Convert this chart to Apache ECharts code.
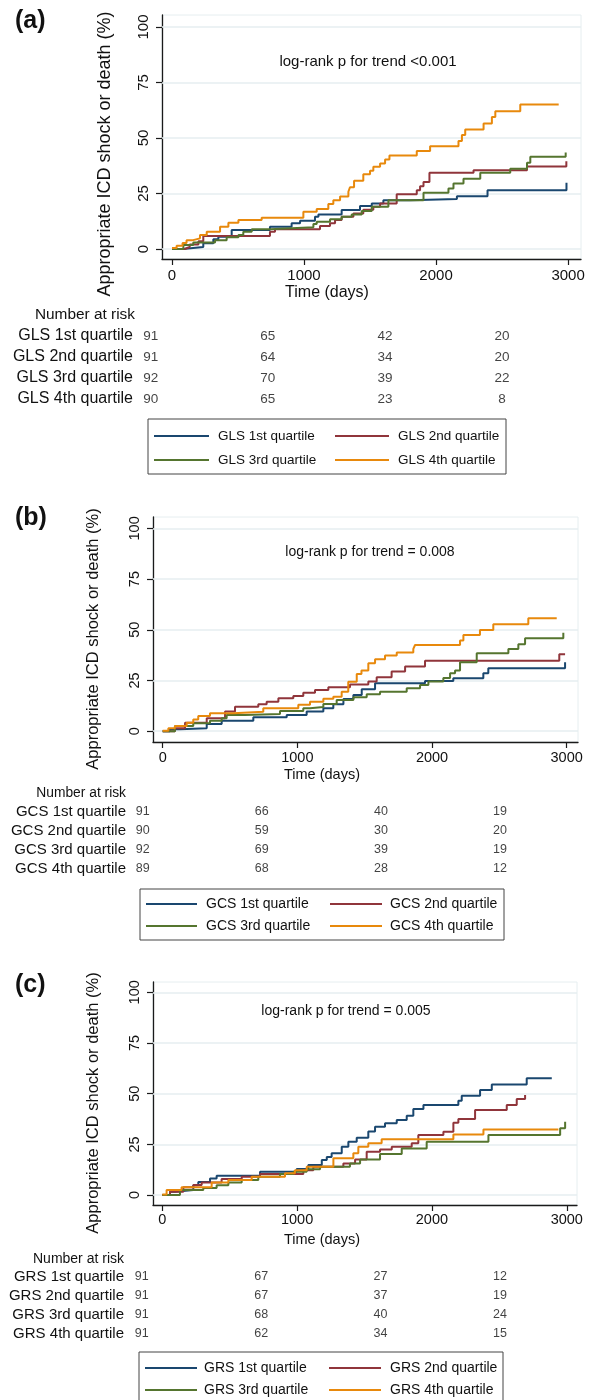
<!DOCTYPE html>
<html>
<head>
<meta charset="utf-8">
<script src="https://cdn.jsdelivr.net/npm/echarts@6/dist/echarts.min.js"></script>
<style>
  html, body { margin: 0; padding: 0; background: #fff; }
  #main { width: 593px; height: 1400px; }
</style>
</head>
<body>
<div id="main"></div>
<script>
  // ---- data: [days, cumulative %] step points ----
  const glsQ1 = [[0,0],[83,0.9],[237,2.6],[313,4.4],[351,5.5],[452,8.6],[742,10],[906,11.6],[970,12.7],[1083,14.5],[1109,15.5],[1285,17.6],[1424,19.4],[1513,20.5],[1601,22],[1804,22.5],[2158,23.8],[2390,26.5],[2988,29.8]]
  const glsQ2 = [[0,0],[96,0.9],[134,2],[200,3.5],[237,5.9],[742,7.8],[780,8.9],[1121,10.4],[1197,11.6],[1235,13.1],[1285,14.5],[1374,16],[1449,17.7],[1525,19],[1576,20.5],[1702,24.7],[1854,26.5],[1879,28.3],[1905,30.2],[1950,34.4],[2284,35.5],[2689,37.2],[2954,37.2],[2987,39.5]]
  const glsQ3 = [[0,0],[86,1.8],[161,2.9],[326,4],[414,5.3],[503,6.3],[540,7.8],[604,8.9],[742,9.8],[1071,11.3],[1096,12.3],[1197,13.4],[1285,14.5],[1361,15.5],[1437,17.1],[1513,19],[1639,22],[1905,25.3],[2094,27.2],[2132,29.5],[2208,31.7],[2335,34.3],[2562,36.2],[2689,38.8],[2714,41.5],[2982,43.5]]
  const glsQ4 = [[0,0.5],[35,1.5],[80,2.7],[110,4],[160,4.8],[212,6.3],[263,7.8],[364,10],[427,11.8],[503,13.1],[679,14.1],[995,16.8],[1096,18],[1184,20.3],[1222,22],[1273,23.6],[1336,25.8],[1348,27.8],[1379,30.7],[1449,33.7],[1500,35.2],[1525,37],[1576,38.5],[1614,40.3],[1647,42.1],[1854,44.1],[1955,46.3],[2170,48.7],[2196,51.3],[2221,53.8],[2360,56.5],[2423,59.5],[2449,62.1],[2638,65.1],[2929,65.1]]

  const gcsQ1 = [[0,0],[54,1],[128,1.5],[327,3.6],[438,5.2],[673,6.9],[921,8],[1069,9.7],[1193,11.3],[1267,13.3],[1342,15.9],[1416,17.9],[1478,20.7],[1577,23.6],[1948,24.8],[2158,26.1],[2381,28.6],[2418,31],[2988,34]]
  const gcsQ2 = [[0,0],[91,1.5],[166,4.2],[327,6.4],[463,9.7],[537,12.1],[710,13.3],[772,14.6],[859,16.3],[970,17.4],[1044,19],[1131,20.3],[1230,21.7],[1391,23],[1527,24.5],[1589,26.6],[1700,29.4],[1800,31.9],[1948,34.8],[2945,37.9],[2988,37.9]]
  const gcsQ3 = [[0,0],[91,2.6],[227,3.9],[351,5.2],[438,6.4],[475,8],[611,8.5],[871,10],[1044,11.3],[1094,12],[1193,13.4],[1292,15.4],[1416,16.7],[1515,18.2],[1614,19.5],[1812,21.2],[1911,22.8],[1973,24.5],[2084,26.2],[2134,28.6],[2171,30],[2208,34],[2332,38.4],[2567,40.6],[2641,42.9],[2691,45.8],[2975,48.6]]
  const gcsQ4 = [[0,0.3],[42,1.5],[91,2.6],[178,4.2],[227,5.8],[264,7.5],[351,8.9],[524,9.6],[747,11.3],[1007,13],[1094,14.6],[1193,16],[1267,17],[1329,19.5],[1378,24.4],[1441,28.2],[1476,30],[1527,33.5],[1577,35.5],[1651,37.3],[1738,38.8],[1861,40.6],[1874,42.5],[2208,44.7],[2233,47.5],[2356,49.9],[2455,52.7],[2715,55.7],[2926,55.7]]

  const grsQ1 = [[0,0],[57,1.6],[94,2.5],[230,4.9],[267,6.5],[354,8.2],[403,9.5],[725,11.5],[997,12.8],[1083,14.8],[1183,17.3],[1220,18.8],[1256,20.6],[1331,23.8],[1380,26.3],[1442,28.3],[1528,31.3],[1578,33.7],[1652,35.4],[1739,37],[1813,39.1],[1862,42.4],[1937,44.4],[2196,46.5],[2221,49],[2357,51.8],[2444,54.6],[2703,57.6],[2889,57.6]]
  const grsQ2 = [[0,0],[57,1.6],[156,3.8],[230,5],[292,6.2],[440,7.9],[589,9],[725,10.4],[1046,12.3],[1120,14],[1343,15.6],[1430,17.6],[1516,21.4],[1615,22.5],[1702,23.8],[1850,25.5],[1899,29.6],[2085,31.2],[2159,35.7],[2196,37.5],[2320,41.9],[2555,44.4],[2629,47.4],[2691,49.3]]
  const grsQ3 = [[0,0],[131,2.5],[304,3.5],[403,4.9],[490,6.2],[589,7.4],[712,9],[873,10.4],[972,11.5],[1071,12.7],[1170,14],[1392,15.6],[1467,17.6],[1615,20.2],[1776,23],[1961,26.3],[2419,29.6],[2951,32.9],[2988,36.2]]
  const grsQ4 = [[0,0.3],[32,2.5],[143,3.8],[366,6.2],[490,7.4],[663,9],[910,10.7],[984,12.3],[1071,14],[1269,18.1],[1417,20.6],[1454,23.8],[1528,25.5],[1627,27.5],[2159,29.9],[2382,32.4],[2938,32.4]]

  // number at risk at 0, 1000, 2000, 3000 days
  const glsRisk = [[91,65,42,20],[91,64,34,20],[92,70,39,22],[90,65,23,8]]
  const gcsRisk = [[91,66,40,19],[90,59,30,20],[92,69,39,19],[89,68,28,12]]
  const grsRisk = [[91,67,27,12],[91,67,37,19],[91,68,40,24],[91,62,34,15]]

  const quartiles = ['1st quartile', '2nd quartile', '3rd quartile', '4th quartile']
  const timeTicks = [0, 1000, 2000, 3000]
  const pctTicks = [0, 25, 50, 75, 100]
  const colors = ['#1a476f', '#90353b', '#55752f', '#e8890c']

  const font = "'Liberation Sans', Arial, sans-serif"

  const panels = [
    { tag: '(a)', prefix: 'GLS', note: 'log-rank p for trend <0.001', curves: [glsQ1, glsQ2, glsQ3, glsQ4], risk: glsRisk,
      grid: {left: 162, top: 15, width: 419, height: 244}, xr: [-75.8, 3098], yr: [-4.5, 105.4],
      tickFont: 15, xMargin: 9, yMargin: 11,
      riskGrid: {left: 150.7, top: 325.5, width: 351.3, height: 84}, riskMargin: 17.7, rowFont: 16, numFont: 13.5,
      tagPos: [15, 23], notePos: [368, 62], noteFont: 15, xTitle: [327, 293, 16], yTitle: [105, 154, 18], nar: [135, 315, 15.4],
      legend: {box: [148, 419, 506, 474], rows: [436, 460], lines: [[154, 209], [335, 389]], texts: [218, 398], size: 13.5} },
    { tag: '(b)', prefix: 'GCS', note: 'log-rank p for trend = 0.008', curves: [gcsQ1, gcsQ2, gcsQ3, gcsQ4], risk: gcsRisk,
      grid: {left: 153, top: 517, width: 425, height: 225}, xr: [-72, 3084], yr: [-5.3, 105.6],
      tickFont: 14.5, xMargin: 8, yMargin: 11,
      riskGrid: {left: 142.7, top: 802.5, width: 357.3, height: 76}, riskMargin: 16.7, rowFont: 15, numFont: 12.5,
      tagPos: [15, 520], notePos: [370, 552], noteFont: 14, xTitle: [322, 775, 14.5], yTitle: [93.5, 639, 16.5], nar: [126, 793, 13.8],
      legend: {box: [140, 889, 504, 940], rows: [904, 926], lines: [[146, 197], [330, 382]], texts: [206, 390], size: 14} },
    { tag: '(c)', prefix: 'GRS', note: 'log-rank p for trend = 0.005', curves: [grsQ1, grsQ2, grsQ3, grsQ4], risk: grsRisk,
      grid: {left: 153, top: 982, width: 424, height: 223}, xr: [-69, 3076], yr: [-4.9, 105.1],
      tickFont: 14.5, xMargin: 7, yMargin: 11,
      riskGrid: {left: 141.7, top: 1267.5, width: 358.3, height: 76}, riskMargin: 17.7, rowFont: 15, numFont: 12.5,
      tagPos: [15, 987], notePos: [346, 1011], noteFont: 14, xTitle: [322, 1240, 14.5], yTitle: [93.5, 1103, 16.5], nar: [124, 1259, 14],
      legend: {box: [139, 1352, 503, 1404], rows: [1368, 1390], lines: [[145, 197], [329, 381]], texts: [204, 390], size: 14} }
  ]

  const chart = echarts.init(document.getElementById('main'), null, {renderer: 'canvas'})

  const grid = [], xAxis = [], yAxis = [], series = [], graphic = []

  panels.forEach(function (p, pi) {
    const names = quartiles.map(q => p.prefix + ' ' + q)
    const gMain = pi * 2, gRisk = pi * 2 + 1

    grid.push(Object.assign({show: true, borderColor: '#e6eef0', borderWidth: 1, backgroundColor: '#fff'}, p.grid))
    grid.push(p.riskGrid)

    xAxis.push({
      type: 'value', gridIndex: gMain, min: p.xr[0], max: p.xr[1],
      axisLine: {show: true, onZero: false, lineStyle: {color: '#1a1a1a', width: 1.3}},
      axisTick: {show: true, customValues: timeTicks, length: 6, lineStyle: {color: '#1a1a1a', width: 1.2}},
      axisLabel: {customValues: timeTicks, fontSize: p.tickFont, color: '#111', fontFamily: font, margin: p.xMargin,
        formatter: v => String(v)},
      splitLine: {show: false}
    })
    yAxis.push({
      type: 'value', gridIndex: gMain, min: p.yr[0], max: p.yr[1],
      axisLine: {show: true, onZero: false, lineStyle: {color: '#1a1a1a', width: 1.3}},
      axisTick: {show: true, customValues: pctTicks, length: 6, lineStyle: {color: '#1a1a1a', width: 1.2}},
      axisLabel: {customValues: pctTicks, rotate: 90, fontSize: p.tickFont, color: '#111', fontFamily: font, margin: p.yMargin,
        formatter: v => String(v)},
      splitLine: {show: false}
    })
    xAxis.push({type: 'value', gridIndex: gRisk, min: 0, max: 3000, show: false})
    yAxis.push({
      type: 'category', gridIndex: gRisk, data: names, inverse: true,
      axisLine: {show: false}, axisTick: {show: false}, splitLine: {show: false},
      axisLabel: {interval: 0, fontSize: p.rowFont, color: '#111', fontFamily: font, margin: p.riskMargin}
    })

    // horizontal gridlines
    series.push({
      type: 'line', xAxisIndex: gMain, yAxisIndex: gMain, data: [], silent: true,
      markLine: {silent: true, symbol: 'none', z: 1, label: {show: false},
        lineStyle: {color: '#e6eef0', width: 1.5, type: 'solid'},
        data: pctTicks.map(v => ({yAxis: v}))}
    })

    p.curves.forEach(function (c, ci) {
      series.push({
        name: names[ci], type: 'line', step: 'end', xAxisIndex: gMain, yAxisIndex: gMain,
        data: c, showSymbol: false, symbol: 'none', z: 6, animation: false,
        lineStyle: {color: colors[ci], width: 2}
      })
    })

    const riskPts = []
    p.risk.forEach(function (row, ri) {
      row.forEach(function (v, ti) { riskPts.push([timeTicks[ti], ri, v]) })
    })
    series.push({
      type: 'scatter', xAxisIndex: gRisk, yAxisIndex: gRisk, data: riskPts,
      symbolSize: 2, itemStyle: {color: 'rgba(0,0,0,0)'}, silent: true, animation: false, z: 6,
      label: {show: true, position: 'inside', color: '#111', fontSize: p.numFont, fontFamily: font,
        formatter: d => String(d.value[2])}
    })

    // texts
    graphic.push({type: 'text', left: p.tagPos[0], top: p.tagPos[1] - 14,
      style: {text: p.tag, font: 'bold 25px ' + font, fill: '#111'}})
    graphic.push({type: 'text', x: p.notePos[0], y: p.notePos[1],
      style: {text: p.note, font: p.noteFont + 'px ' + font, fill: '#111', align: 'center', verticalAlign: 'middle'}})
    graphic.push({type: 'text', x: p.xTitle[0], y: p.xTitle[1],
      style: {text: 'Time (days)', font: p.xTitle[2] + 'px ' + font, fill: '#111', align: 'center', verticalAlign: 'middle'}})
    graphic.push({type: 'text', x: p.yTitle[0], y: p.yTitle[1], rotation: Math.PI / 2,
      style: {text: 'Appropriate ICD shock or death (%)', font: p.yTitle[2] + 'px ' + font, fill: '#111', align: 'center', verticalAlign: 'middle'}})
    graphic.push({type: 'text', x: p.nar[0], y: p.nar[1],
      style: {text: 'Number at risk', font: p.nar[2] + 'px ' + font, fill: '#111', align: 'right', verticalAlign: 'middle'}})

    // legend box
    const L = p.legend
    graphic.push({type: 'rect', shape: {x: L.box[0], y: L.box[1], width: L.box[2] - L.box[0], height: L.box[3] - L.box[1]},
      style: {fill: '#fff', stroke: '#444', lineWidth: 1}})
    names.forEach(function (n, k) {
      const row = Math.floor(k / 2), col = k % 2
      graphic.push({type: 'line', shape: {x1: L.lines[col][0], y1: L.rows[row], x2: L.lines[col][1], y2: L.rows[row]},
        style: {stroke: colors[k], lineWidth: 2}})
      graphic.push({type: 'text', x: L.texts[col], y: L.rows[row],
        style: {text: n, font: L.size + 'px ' + font, fill: '#111', verticalAlign: 'middle'}})
    })
  })

  chart.setOption({
    backgroundColor: '#fff',
    animation: false,
    grid: grid,
    xAxis: xAxis,
    yAxis: yAxis,
    series: series,
    graphic: graphic
  })
</script>
</body>
</html>
